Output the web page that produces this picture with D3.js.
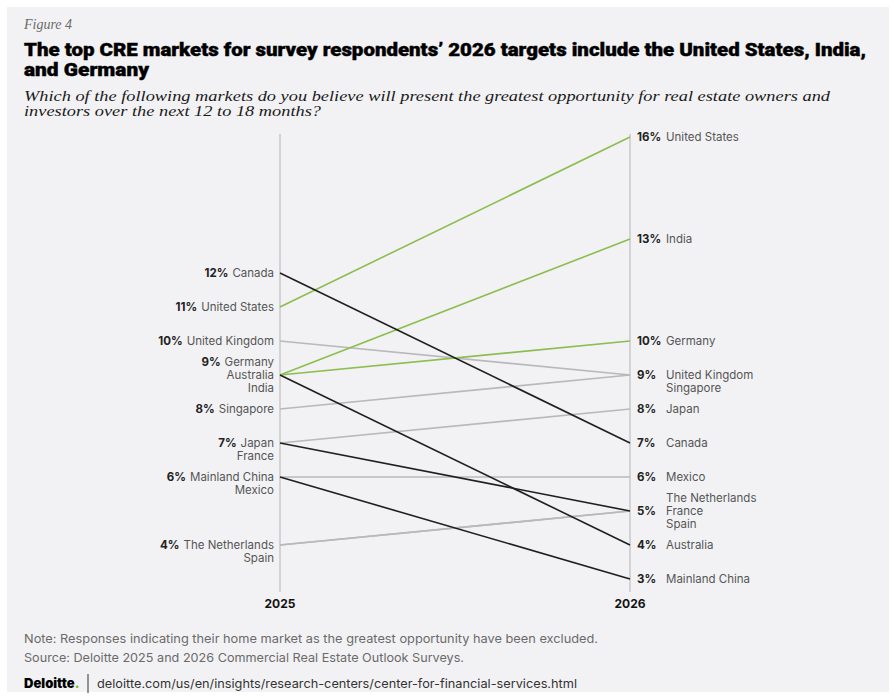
<!DOCTYPE html>
<html>
<head>
<meta charset="utf-8">
<script src="https://cdn.jsdelivr.net/npm/d3@7"></script>
<style>
  html, body { margin: 0; padding: 0; background: #ffffff; }
  svg { display: block; }
</style>
</head>
<body>
<svg id="chart" width="894" height="698"></svg>
<script>
// ---- Data ----
const markets = ["United States", "Canada", "United Kingdom", "Germany", "Australia", "India",
                 "Singapore", "Japan", "Mainland China", "Mexico", "The Netherlands", "France", "Spain"];
const values2025 = [11, 12, 10, 9, 9, 9, 8, 7, 6, 6, 4, 7, 4];
const values2026 = [16, 7, 9, 10, 4, 13, 9, 8, 3, 6, 5, 5, 5];
const trend = ["up", "down", "flat", "up", "down", "up", "flat", "flat", "down", "flat", "flat", "down", "flat"];
const years = ["2025", "2026"];

const colors = { up: "#8cbd4f", down: "#1f1f1f", flat: "#b9b9bb" };

const svg = d3.select("#chart");
const W = 894, H = 698;

// panel background
svg.append("rect").attr("x", 7).attr("y", 7).attr("width", W - 12).attr("height", H - 13).attr("fill", "#f2f2f4");

// header
svg.append("text").attr("x", 24).attr("y", 29)
  .attr("font-family", "Liberation Serif, serif").attr("font-style", "italic")
  .attr("font-size", 14).attr("fill", "#6b6b6b").text("Figure 4");

const titleLines = ["The top CRE markets for survey respondents’ 2026 targets include the United States, India,", "and Germany"];
svg.append("text").attr("x", 24).attr("y", 56)
  .attr("font-family", "Roboto, sans-serif").attr("font-weight", 900)
  .attr("font-size", 17.5).attr("fill", "#000")
  .attr("stroke", "#000").attr("stroke-width", 0.4)
  .attr("textLength", 842).attr("lengthAdjust", "spacingAndGlyphs")
  .text(titleLines[0]);
svg.append("text").attr("x", 24).attr("y", 76)
  .attr("font-family", "Roboto, sans-serif").attr("font-weight", 900)
  .attr("font-size", 17.5).attr("fill", "#000")
  .attr("stroke", "#000").attr("stroke-width", 0.4)
  .attr("textLength", 125).attr("lengthAdjust", "spacingAndGlyphs")
  .text(titleLines[1]);

const subLines = ["Which of the following markets do you believe will present the greatest opportunity for real estate owners and",
                  "investors over the next 12 to 18 months?"];
svg.append("text").attr("x", 24).attr("y", 101)
  .attr("font-family", "Liberation Serif, serif").attr("font-style", "italic")
  .attr("font-size", 14.5).attr("fill", "#1a1a1a")
  .attr("textLength", 806).attr("lengthAdjust", "spacingAndGlyphs")
  .text(subLines[0]);
svg.append("text").attr("x", 24).attr("y", 116)
  .attr("font-family", "Liberation Serif, serif").attr("font-style", "italic")
  .attr("font-size", 14.5).attr("fill", "#1a1a1a")
  .attr("textLength", 297).attr("lengthAdjust", "spacingAndGlyphs")
  .text(subLines[1]);

// ---- Scales ----
const x = d3.scalePoint().domain(years).range([280, 630]);
const y = d3.scaleLinear().domain([3, 16]).range([579, 137]);

const data = markets.map((m, i) => ({ name: m, v: [values2025[i], values2026[i]], trend: trend[i] }));

// axis lines
years.forEach(yr => {
  svg.append("line").attr("x1", x(yr)).attr("x2", x(yr)).attr("y1", 134).attr("y2", 592)
    .attr("stroke", "#c9c9cb").attr("stroke-width", 1.5);
  svg.append("text").attr("x", x(yr)).attr("y", 608).attr("text-anchor", "middle")
    .attr("font-family", "Inter, sans-serif").attr("font-weight", 700).attr("font-size", 12)
    .attr("fill", "#111").text(yr);
});

// lines: draw flat first, then green, then black
const order = { flat: 0, up: 1, down: 2 };
const line = d3.line().x(d => x(d.yr)).y(d => y(d.val));
svg.append("g").selectAll("path")
  .data(data.slice().sort((a, b) => order[a.trend] - order[b.trend]))
  .join("path")
  .attr("d", d => line(years.map((yr, j) => ({ yr, val: d.v[j] }))))
  .attr("fill", "none")
  .attr("stroke", d => colors[d.trend])
  .attr("stroke-width", 1.6);

// labels
const lh = 13;
function groups(j) {
  const g = d3.groups(data, d => d.v[j]);
  return g.map(([val, arr]) => ({ val, names: arr.map(d => d.name) }));
}

const fam = "Inter, sans-serif";
const fs = 11.5;
// left labels
groups(0).forEach(g => {
  const off = g.names.length === 3 ? -lh : 0;
  g.names.forEach((n, k) => {
    const t = svg.append("text").attr("x", 274).attr("y", y(g.val) + off + k * lh)
      .attr("dy", "0.35em").attr("text-anchor", "end")
      .attr("font-family", fam).attr("font-size", fs);
    if (k === 0) {
      t.append("tspan").attr("font-weight", 700).attr("fill", "#222").text(g.val + "%");
      t.append("tspan").attr("fill", "#555").attr("dx", 4).text(n);
    } else {
      t.append("tspan").attr("fill", "#555").text(n);
    }
  });
});

// right labels
groups(1).forEach(g => {
  const off = g.names.length === 3 ? -lh : 0;
  svg.append("text").attr("x", 637).attr("y", y(g.val)).attr("dy", "0.35em")
    .attr("font-family", fam).attr("font-size", fs).attr("font-weight", 700).attr("fill", "#222")
    .text(g.val + "%");
  g.names.forEach((n, k) => {
    svg.append("text").attr("x", 666).attr("y", y(g.val) + off + k * lh).attr("dy", "0.35em")
      .attr("font-family", fam).attr("font-size", fs).attr("fill", "#555").text(n);
  });
});

// footer
svg.append("text").attr("x", 24).attr("y", 643)
  .attr("font-family", fam).attr("font-size", 12).attr("fill", "#6a6a6a")
  .attr("textLength", 574).attr("lengthAdjust", "spacingAndGlyphs")
  .text("Note: Responses indicating their home market as the greatest opportunity have been excluded.");
svg.append("text").attr("x", 24).attr("y", 662)
  .attr("font-family", fam).attr("font-size", 12).attr("fill", "#6a6a6a")
  .attr("textLength", 440).attr("lengthAdjust", "spacingAndGlyphs")
  .text("Source: Deloitte 2025 and 2026 Commercial Real Estate Outlook Surveys.");

const brand = svg.append("text").attr("x", 24).attr("y", 688)
  .attr("font-family", fam).attr("font-size", 13).attr("font-weight", 900).attr("fill", "#000");
brand.append("tspan").text("Deloitte");
brand.append("tspan").attr("fill", "#86bc25").text(".");
svg.append("line").attr("x1", 88).attr("x2", 88).attr("y1", 674).attr("y2", 693)
  .attr("stroke", "#333").attr("stroke-width", 1);
svg.append("text").attr("x", 97).attr("y", 688)
  .attr("font-family", fam).attr("font-size", 12).attr("fill", "#333")
  .attr("textLength", 480).attr("lengthAdjust", "spacingAndGlyphs")
  .text("deloitte.com/us/en/insights/research-centers/center-for-financial-services.html");
</script>
</body>
</html>
